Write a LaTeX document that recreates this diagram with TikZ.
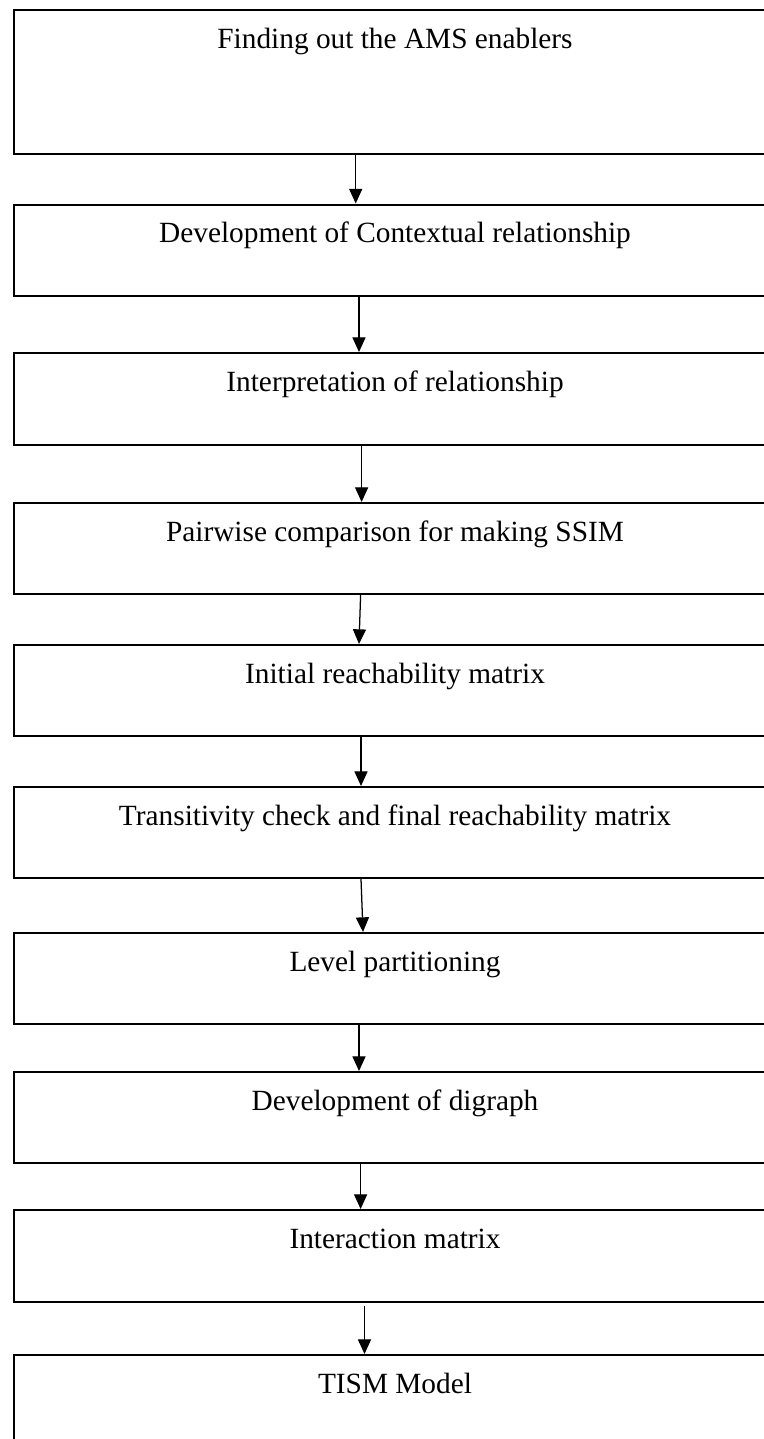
\documentclass[tikz,border=0pt]{standalone}
\usepackage{fontspec}
\setmainfont{Liberation Serif}
\usetikzlibrary{arrows.meta,calc}

\begin{document}
\begin{tikzpicture}[x=0.75pt,y=-0.75pt,
  stepbox/.style={draw=black, line width=1.5pt, rectangle, anchor=north west,
    inner xsep=0pt, inner ysep=0pt, minimum width=571.5pt,
    text height=28.5pt, font=\fontsize{22pt}{26pt}\selectfont},
  flow/.style={draw=black, line width=0.95pt,
    -{Triangle[width=9.8pt,length=11pt]}}]
  \useasboundingbox (0,0) rectangle (764,1439);
  \fill[white] (0,0) rectangle (764,1439);
  \clip (0,0) rectangle (764,1439);

  % boxes: top edge at the given y, text depth sets the box height
  \node[stepbox, text depth=79.5pt] (b1) at (13,9) {Finding out the AMS enablers};
  \node[stepbox, text depth=40.1pt] (b2) at (13,203.5) {Development of Contextual relationship};
  \node[stepbox, text depth=40.5pt] (b3) at (13,352) {Interpretation of relationship};
  \node[stepbox, text depth=39.75pt] (b4) at (13,502) {Pairwise comparison for making SSIM};
  \node[stepbox, text depth=39.75pt] (b5) at (13,644) {Initial reachability matrix};
  \node[stepbox, text depth=39.75pt] (b6) at (13,786) {Transitivity check and final reachability matrix};
  \node[stepbox, text depth=39.75pt] (b7) at (13,932) {Level partitioning};
  \node[stepbox, text depth=39.75pt] (b8) at (13,1071) {Development of digraph};
  \node[stepbox, text depth=40.5pt] (b9) at (13,1209) {Interaction matrix};
  \node[stepbox, text depth=45pt] (b10) at (13,1354) {TISM Model};

  % connectors between consecutive steps
  \draw[flow] ($(b1.south west)+(342.7,0)$) -- ($(b2.north west)+(342.7,0)$);
  \draw[flow] ($(b2.south west)+(346,0)$) -- ($(b3.north west)+(346,0)$);
  \draw[flow] ($(b3.south west)+(348.6,0)$) -- ($(b4.north west)+(348.6,0)$);
  \draw[flow] ($(b4.south west)+(347.6,0)$) -- ($(b5.north west)+(346,0)$);
  \draw[flow] ($(b5.south west)+(348,0)$) -- ($(b6.north west)+(348,0)$);
  \draw[flow] ($(b6.south west)+(348,0)$) -- ($(b7.north west)+(350,0)$);
  \draw[flow] ($(b7.south west)+(346,0)$) -- ($(b8.north west)+(346,0)$);
  \draw[flow] ($(b8.south west)+(347.6,0)$) -- ($(b9.north west)+(347.6,0)$);
  \draw[flow] ($(b9.south west)+(351.5,3)$) -- ($(b10.north west)+(351.5,0)$);
\end{tikzpicture}
\end{document}
